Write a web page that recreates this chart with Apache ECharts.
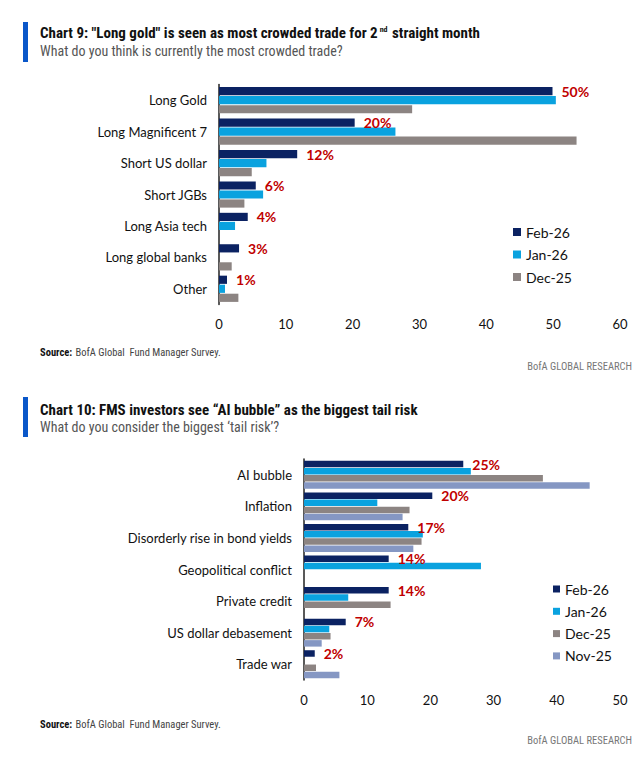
<!DOCTYPE html>
<html>
<head>
<meta charset="utf-8">
<script src="https://cdn.jsdelivr.net/npm/echarts@6/dist/echarts.min.js"></script>
<style>
html,body{margin:0;padding:0;background:#fff;}
#c{width:644px;height:759px;}
</style>
</head>
<body>
<div id="c"></div>
<script>
// ---- Chart 9 data ----
const cats9 = ['Long Gold','Long Magnificent 7','Short US dollar','Short JGBs','Long Asia tech','Long global banks','Other'];
const feb9 = [49.9, 20.3, 11.7, 5.5, 4.3, 3.0, 1.2];
const jan9 = [50.4, 26.4, 7.1, 6.6, 2.4, null, 0.9];
const dec9 = [28.9, 53.5, 4.9, 3.8, null, 1.9, 2.9];
const lab9 = ['50%','20%','12%','6%','4%','3%','1%'];
const ticks9 = [0, 60, 10];

// ---- Chart 10 data ----
const cats10 = ['AI bubble','Inflation','Disorderly rise in bond yields','Geopolitical conflict','Private credit','US dollar debasement','Trade war'];
const feb10 = [25.2, 20.3, 16.5, 13.4, 13.4, 6.6, 1.7];
const jan10 = [26.4, 11.6, 18.8, 28.0, 7.0, 4.0, null];
const dec10 = [37.8, 16.7, 18.6, null, 13.7, 4.2, 1.9];
const nov10 = [45.2, 15.6, 17.3, null, null, 2.8, 5.6];
const lab10 = ['25%','20%','17%','14%','14%','7%','2%'];
const ticks10 = [0, 50, 10];

const seriesNames9 = ['Feb-26','Jan-26','Dec-25'];
const seriesNames10 = ['Feb-26','Jan-26','Dec-25','Nov-25'];

const titles = ['Chart 9: "Long gold" is seen as most crowded trade for 2', 'Chart 10: FMS investors see \u201cAI bubble\u201d as the biggest tail risk'];
const subtitles = ['What do you think is currently the most crowded trade?', 'What do you consider the biggest \u2018tail risk\u2019?'];
const sourceText = 'BofA Global  Fund Manager Survey.';
const brand = 'BofA GLOBAL RESEARCH';

const COL = {feb:'#0b2262', jan:'#0aa2df', dec:'#8c8482', nov:'#8597c3', red:'#c00000'};
const FONT = 'Lato, "Open Sans", sans-serif';
const CFONT = '"Roboto Condensed","Liberation Sans Narrow","DejaVu Sans Condensed",Roboto,sans-serif';

const chart = echarts.init(document.getElementById('c'), null, {renderer:'svg'});

function catAxis(idx, cats){
  return {type:'category', gridIndex:idx, data:cats, inverse:true,
    axisLine:{show:true, lineStyle:{color:'#222', width:1.5}},
    axisTick:{show:false},
    axisLabel:{margin:12, fontFamily:FONT, fontSize:13, color:'#111'}};
}
function valAxis(idx, t){
  return {type:'value', gridIndex:idx, min:t[0], max:t[1], interval:t[2],
    axisLine:{show:false}, axisTick:{show:false}, splitLine:{show:false},
    axisLabel:{margin:13, fontFamily:FONT, fontSize:13, color:'#111'}};
}
function bar(name, idx, data, color, bw, labels){
  const s = {name, type:'bar', xAxisIndex:idx, yAxisIndex:idx, data, barWidth:bw, barGap:'10%',
    itemStyle:{color}, emphasis:{disabled:true}, animation:false};
  if(labels){
    s.label = {show:true, position:'right', distance:9, fontFamily:FONT, fontSize:14, fontWeight:'bold',
      color:COL.red, formatter:p=>labels[p.dataIndex]};
  }
  return s;
}

const srcRich = {a:{font:'bold 10.5px '+CFONT, fill:'#111'}, b:{font:'10.5px '+CFONT, fill:'#444'}};
const g = [];
// chart 9 header with superscript
g.push({type:'rect', shape:{x:23, y:22, width:5, height:40}, style:{fill:'#0a57c9'}});
g.push({type:'text', left:40, top:25, style:{
  text:'{b|' + titles[0] + '}{s|nd}{b| straight month}',
  rich:{b:{font:'bold 15px '+CFONT, fill:'#111', verticalAlign:'bottom'},
        s:{font:'bold 8px '+CFONT, fill:'#111', verticalAlign:'top', padding:[0,1,0,2]}}}});
g.push({type:'text', left:40, top:44, style:{text:subtitles[0], font:'14px '+CFONT, fill:'#555'}});
g.push({type:'text', left:40, top:346, style:{rich:srcRich, text:'{a|Source:} {b|'+sourceText+'}'}});
g.push({type:'text', right:12, top:361, style:{text:brand, font:'10.5px '+CFONT, fill:'#777'}});
// chart 10 header
g.push({type:'rect', shape:{x:23, y:397, width:5, height:40}, style:{fill:'#0a57c9'}});
g.push({type:'text', left:40, top:402, style:{text:titles[1], font:'bold 15px '+CFONT, fill:'#111'}});
g.push({type:'text', left:40, top:420, style:{text:subtitles[1], font:'14px '+CFONT, fill:'#555'}});
g.push({type:'text', left:40, top:718, style:{rich:srcRich, text:'{a|Source:} {b|'+sourceText+'}'}});
g.push({type:'text', right:12, top:735, style:{text:brand, font:'10.5px '+CFONT, fill:'#777'}});

const legendText = {fontFamily:FONT, fontSize:14, color:'#111', lineHeight:14};

chart.setOption({
  animation:false,
  backgroundColor:'#fff',
  grid:[
    {left:219, right:24, top:84.5, height:220, containLabel:false},
    {left:304, right:24, top:459, height:221, containLabel:false}
  ],
  xAxis:[valAxis(0, ticks9), valAxis(1, ticks10)],
  yAxis:[catAxis(0, cats9), catAxis(1, cats10)],
  legend:[
    {orient:'vertical', left:513, top:225, padding:0, itemWidth:8, itemHeight:8, itemGap:8.5, icon:'rect',
     data:seriesNames9, textStyle:legendText, selectedMode:false},
    {orient:'vertical', left:553, top:582, padding:0, itemWidth:7, itemHeight:7, itemGap:8.3, icon:'rect',
     data:seriesNames10, textStyle:legendText, selectedMode:false}
  ],
  series:[
    bar(seriesNames9[0], 0, feb9, COL.feb, 8.2, lab9),
    bar(seriesNames9[1], 0, jan9, COL.jan, 8.2),
    bar(seriesNames9[2], 0, dec9, COL.dec, 8.2),
    bar(seriesNames10[0], 1, feb10, COL.feb, 6.5, lab10),
    bar(seriesNames10[1], 1, jan10, COL.jan, 6.5),
    bar(seriesNames10[2], 1, dec10, COL.dec, 6.5),
    bar(seriesNames10[3], 1, nov10, COL.nov, 6.5)
  ],
  graphic:g
});
</script>
</body>
</html>
